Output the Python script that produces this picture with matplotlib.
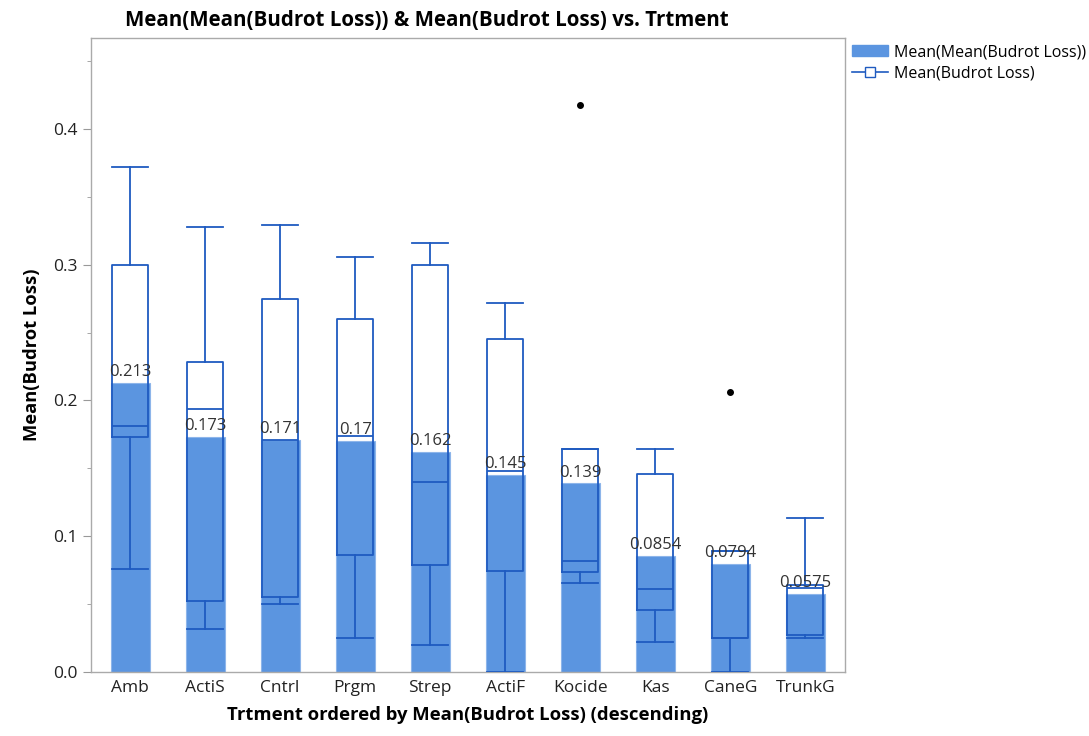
import matplotlib
matplotlib.use("Agg")
import matplotlib.pyplot as plt
from matplotlib.patches import Patch
from matplotlib.lines import Line2D
import numpy as np

plt.rcParams['font.family'] = ['Open Sans', 'DejaVu Sans']

categories = ["Amb", "ActiS", "Cntrl", "Prgm", "Strep", "ActiF", "Kocide", "Kas", "CaneG", "TrunkG"]
mean_values = [0.213, 0.173, 0.171, 0.17, 0.162, 0.145, 0.139, 0.0854, 0.0794, 0.0575]
mean_labels = ["0.213", "0.173", "0.171", "0.17", "0.162", "0.145", "0.139", "0.0854", "0.0794", "0.0575"]
whis_hi = [0.372, 0.328, 0.329, 0.306, 0.316, 0.272, 0.164, 0.164, 0.089, 0.1137]
q3 = [0.300, 0.228, 0.275, 0.260, 0.300, 0.245, 0.164, 0.146, 0.089, 0.064]
med = [0.181, 0.194, 0.171, 0.174, 0.140, 0.148, 0.082, 0.0615, 0.0253, 0.062]
q1 = [0.173, 0.052, 0.0553, 0.086, 0.079, 0.0745, 0.074, 0.0457, 0.0253, 0.027]
whis_lo = [0.076, 0.0317, 0.050, 0.025, 0.020, 0.0, 0.0657, 0.022, 0.0, 0.0253]
outliers = [[], [], [], [], [], [], [0.418], [], [0.2066], []]

bar_color = "#5B95E0"
box_color = "#1F5BC0"

fig = plt.figure(figsize=(10.89, 7.36), dpi=100)
ax = fig.add_axes([91/1089, 64/736, (845-91)/1089, (672-38)/736])

x = np.arange(len(categories))
ax.bar(x, mean_values, width=0.52, color=bar_color, edgecolor="#8DB5EA", linewidth=0.8, zorder=1)

stats = []
for i in range(len(categories)):
    stats.append(dict(med=med[i], q1=q1[i], q3=q3[i], whislo=whis_lo[i], whishi=whis_hi[i], fliers=outliers[i]))
ax.bxp(stats, positions=x, widths=0.48, showfliers=True, patch_artist=False,
       boxprops=dict(color=box_color, linewidth=1.3),
       medianprops=dict(color=box_color, linewidth=1.3),
       whiskerprops=dict(color=box_color, linewidth=1.3),
       capprops=dict(color=box_color, linewidth=1.3),
       flierprops=dict(marker='o', markerfacecolor='black', markeredgecolor='black', markersize=4),
       capwidths=0.48, zorder=3)

for xi, v, lab in zip(x, mean_values, mean_labels):
    ax.text(xi, v + 0.002, lab, ha='center', va='bottom', fontsize=12, color="#333333", zorder=4)

ax.set_xlim(-0.52, 9.53)
ax.set_ylim(0, 0.467)
ax.set_yticks([0.0, 0.1, 0.2, 0.3, 0.4])
ax.set_yticklabels(["0.0", "0.1", "0.2", "0.3", "0.4"])
ax.set_yticks(np.arange(0.05, 0.46, 0.1), minor=True)
ax.set_xticks(x)
ax.set_xticklabels(categories)
ax.tick_params(axis='y', which='major', length=6, color="#999999", labelsize=12.5, labelcolor="#222222")
ax.tick_params(axis='y', which='minor', length=3, color="#999999")
ax.tick_params(axis='x', length=0, labelsize=12.5, labelcolor="#222222", pad=6)
for s in ax.spines.values():
    s.set_color("#AAAAAA")
    s.set_linewidth(1.0)

ax.set_ylabel("Mean(Budrot Loss)", fontsize=13.2, fontweight='bold', labelpad=9)
ax.set_xlabel("Trtment ordered by Mean(Budrot Loss) (descending)", fontsize=13.3, fontweight='bold', labelpad=7)
fig.text(125/1089, 1 - 20/736, "Mean(Mean(Budrot Loss)) & Mean(Budrot Loss) vs. Trtment",
         fontsize=14.8, fontweight='bold', ha='left', va='center')

handles = [Patch(facecolor=bar_color, edgecolor=bar_color),
           Line2D([0], [0], color=box_color, marker='s', markerfacecolor='white', markeredgecolor=box_color,
                  markersize=7, linewidth=1.2)]
fig.legend(handles, ["Mean(Mean(Budrot Loss))", "Mean(Budrot Loss)"], loc='upper left',
           bbox_to_anchor=(846/1089, 1 - 38/736), frameon=False, fontsize=11.5,
           handlelength=2.2, handletextpad=0.4, labelspacing=0.3, borderaxespad=0)

fig.savefig("out.png", dpi=100)
